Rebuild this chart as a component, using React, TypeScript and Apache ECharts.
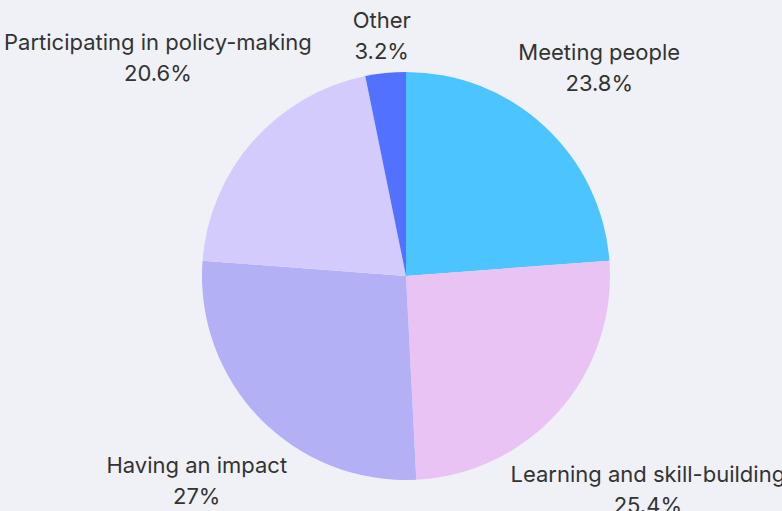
import React, { useEffect, useRef } from "react";
import * as echarts from "echarts";

const categories = [
  "Meeting people",
  "Learning and skill-building",
  "Having an impact",
  "Participating in policy-making",
  "Other",
];
const values = [23.8, 25.4, 27, 20.6, 3.2];
const colors = ["#4cc4ff", "#e9c3f4", "#b3b0f6", "#d3cbfb", "#5271ff"];

const CX = 406;
const CY = 276;
const R = 204;
const GAP = 6;

export default function App() {
  const ref = useRef<HTMLDivElement>(null);
  useEffect(() => {
    if (!ref.current) return;
    const chart = echarts.init(ref.current, undefined, { renderer: "svg" });
    const total = values.reduce((a, b) => a + b, 0);
    const mids: number[] = [];
    let cum = 0;
    values.forEach((v) => {
      mids.push(((cum + v / 2) / total) * Math.PI * 2);
      cum += v;
    });
    const R0 = R + GAP;
    const boxDist = (cx: number, cy: number, hx: number, hy: number) => {
      const nx = Math.max(Math.abs(cx) - hx, 0);
      const ny = Math.max(Math.abs(cy) - hy, 0);
      return Math.sqrt(nx * nx + ny * ny);
    };
    chart.setOption({
      animation: false,
      backgroundColor: "#f0f1f7",
      series: [
        {
          type: "pie",
          center: [CX, CY],
          radius: R,
          startAngle: 90,
          clockwise: true,
          avoidLabelOverlap: false,
          data: categories.map((name, i) => ({
            name,
            value: values[i],
            itemStyle: { color: colors[i] },
          })),
          label: {
            show: true,
            position: "outside",
            formatter: "{b}\n{c}%",
            fontFamily: "Inter",
            fontSize: 22,
            lineHeight: 31,
            color: "#333333",
            align: "center",
          },
          labelLine: { show: false },
          emphasis: { disabled: true },
          labelLayout: (params: any) => {
            const a = mids[params.dataIndex];
            const ux = Math.sin(a);
            const uy = -Math.cos(a);
            const hx = params.labelRect.width / 2;
            const hy = params.labelRect.height / 2;
            let lo = 0;
            let hi = 1000;
            for (let k = 0; k < 60; k++) {
              const t = (lo + hi) / 2;
              if (boxDist(t * ux, t * uy, hx, hy) < R0) lo = t;
              else hi = t;
            }
            const t = (lo + hi) / 2;
            return {
              x: CX + t * ux,
              y: CY + t * uy,
              align: "center",
              verticalAlign: "middle",
            };
          },
        },
      ],
    });
    return () => chart.dispose();
  }, []);
  return (
    <div
      ref={ref}
      style={{ position: "fixed", left: 0, top: 0, width: 782, height: 511 }}
    />
  );
}
